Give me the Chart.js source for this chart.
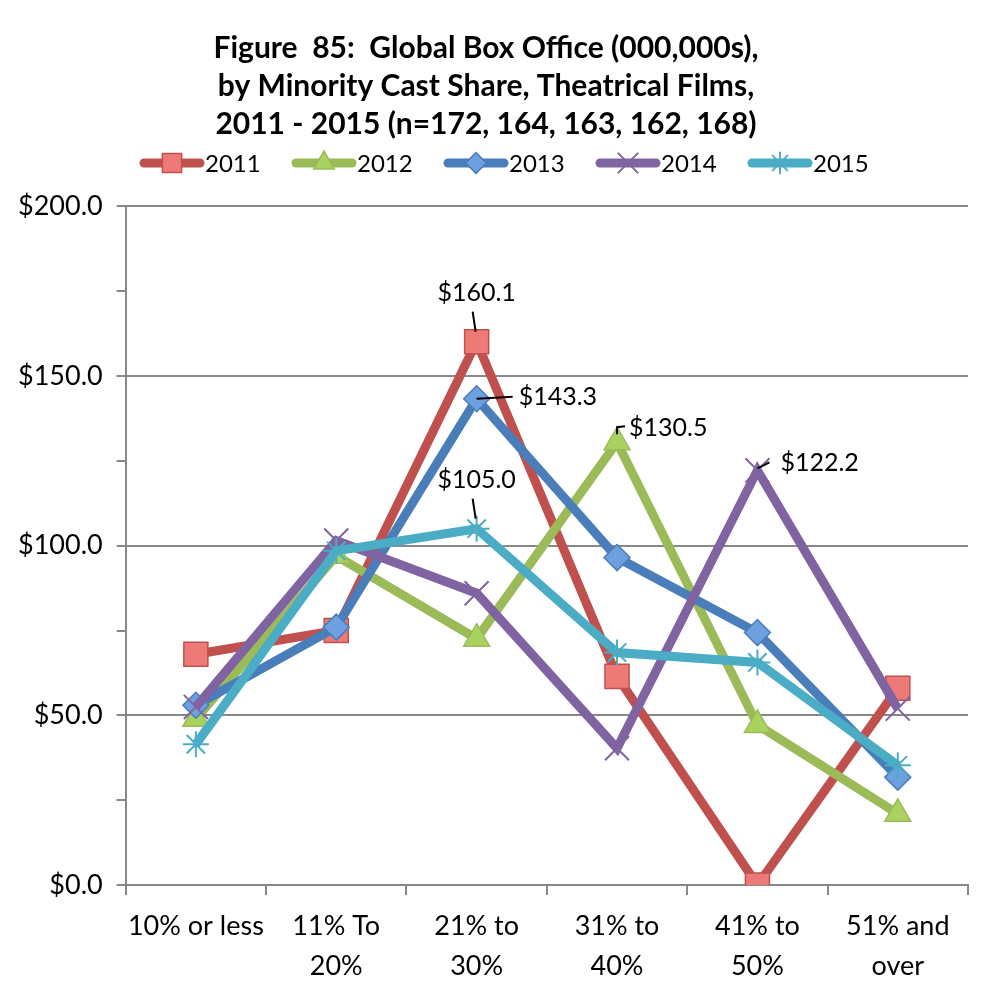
<!DOCTYPE html>
<html>
<head>
<meta charset="utf-8">
<script src="https://cdn.jsdelivr.net/npm/chart.js@4.4.1/dist/chart.umd.min.js"></script>
<style>
  html, body { margin: 0; padding: 0; background: #fff; }
  #wrap { width: 1003px; height: 1005px; position: relative; }
</style>
</head>
<body>
<div id="wrap"><canvas id="myChart"></canvas></div>
<script>
const categories = [['10% or less'], ['11% To', '20%'], ['21% to', '30%'], ['31% to', '40%'], ['41% to', '50%'], ['51% and', 'over']];
const years = ['2011', '2012', '2013', '2014', '2015'];
const v2011 = [68.0, 75.0, 160.1, 61.5, 0.0, 58.0];
const v2012 = [49.0, 97.0, 72.6, 130.5, 47.2, 21.0];
const v2013 = [53.0, 76.0, 143.3, 96.5, 74.4, 31.8];
const v2014 = [52.5, 101.5, 86.0, 40.3, 122.2, 52.0];
const v2015 = [41.5, 98.5, 105.0, 68.5, 65.6, 35.3];
const yTicks = [0, 50, 100, 150, 200];
// which points carry a value label: [series, category]
const labelled = [[0, 2], [2, 2], [1, 3], [3, 4], [4, 2]];

const FONT = 'Lato, "Open Sans", sans-serif';
const lineColors = ['#C0504D', '#9BBB59', '#4A7EBB', '#8064A2', '#4BACC6'];
const fillColors = ['#EE7A77', '#A9D35E', '#6E9FDF', '#8064A2', '#4BACC6'];
const pointStyles = ['rect', 'triangle', 'rectRot', 'crossRot', 'star'];
const pointSizes = [17, 15, 13, 17, 13];
const series = [v2011, v2012, v2013, v2014, v2015];

const datasets = series.map((vals, i) => ({
    label: years[i],
    data: vals,
    borderColor: lineColors[i],
    backgroundColor: lineColors[i],
    borderWidth: 9,
    pointStyle: pointStyles[i],
    pointRadius: pointSizes[i],
    pointHoverRadius: pointSizes[i],
    pointBackgroundColor: fillColors[i],
    pointBorderColor: i < 3 ? lineColors[i] : fillColors[i],
    pointBorderWidth: i < 3 ? 1.5 : 2,
    order: 5 - i,
    tension: 0
}));

// value labels with leader lines
const labelPlugin = {
    id: 'valueLabels',
    afterDatasetsDraw(chart) {
        const c = chart.ctx;
        c.save();
        c.font = '25px ' + FONT;
        c.fillStyle = '#000';
        c.strokeStyle = '#000';
        c.lineWidth = 2;
        labelled.forEach(([s, k]) => {
            const p = chart.getDatasetMeta(s).data[k];
            const txt = '$' + series[s][k].toFixed(1);
            const x = p.x, y = p.y;
            c.beginPath();
            if (s === 0 || s === 4) {
                c.moveTo(x - 4, y - 30); c.lineTo(x - 1, y - 10);
                c.stroke();
                c.textAlign = 'center'; c.textBaseline = 'middle';
                c.fillText(txt, x, y - 49);
            } else if (s === 2) {
                c.moveTo(x, y); c.lineTo(x + 36, y - 2);
                c.stroke();
                c.textAlign = 'left'; c.textBaseline = 'middle';
                c.fillText(txt, x + 42, y - 2);
            } else if (s === 1) {
                c.moveTo(x, y - 8); c.lineTo(x, y - 15); c.lineTo(x + 8, y - 16);
                c.stroke();
                c.textAlign = 'left'; c.textBaseline = 'middle';
                c.fillText(txt, x + 12, y - 14);
            } else {
                c.moveTo(x, y - 2); c.lineTo(x + 12, y - 8);
                c.stroke();
                c.textAlign = 'left'; c.textBaseline = 'middle';
                c.fillText(txt, x + 23, y - 7);
            }
        });
        c.restore();
    }
};

// legend: thick line with the marker on it
const legendPlugin = {
    id: 'lineLegend',
    afterDraw(chart) {
        const c = chart.ctx;
        const y = 163;
        c.save();
        c.font = '24px ' + FONT;
        c.textBaseline = 'middle';
        c.textAlign = 'left';
        years.forEach((yr, i) => {
            const x0 = 140 + i * 152;
            c.strokeStyle = lineColors[i];
            c.lineWidth = 9;
            c.lineCap = 'round';
            c.beginPath();
            c.moveTo(x0 + 4, y); c.lineTo(x0 + 60, y);
            c.stroke();
            c.fillStyle = fillColors[i];
            c.strokeStyle = i < 3 ? lineColors[i] : fillColors[i];
            c.lineWidth = i < 3 ? 1.5 : 2;
            Chart.helpers.drawPoint(c, {pointStyle: pointStyles[i], radius: pointSizes[i] * 0.8, borderWidth: c.lineWidth}, x0 + 32, y);
            c.fillStyle = '#000';
            c.fillText(yr, x0 + 65, y + 1);
        });
        c.restore();
    }
};

const ctx = document.getElementById('myChart').getContext('2d');

new Chart(ctx, {
    type: 'line',
    data: { labels: categories, datasets: datasets },
    plugins: [labelPlugin, legendPlugin],
    options: {
        responsive: true,
        maintainAspectRatio: false,
        animation: false,
        layout: { padding: { left: 4, right: 35, top: 0, bottom: 8 } },
        plugins: {
            legend: { display: false },
            tooltip: { enabled: false },
            title: {
                display: true,
                text: ['Figure  85:  Global Box Office (000,000s),', 'by Minority Cast Share, Theatrical Films,', '2011 - 2015 (n=172, 164, 163, 162, 168)'],
                color: '#000',
                font: { family: FONT, size: 30, weight: 'bold', lineHeight: 1.27 },
                padding: { top: 29, bottom: 63 }
            }
        },
        scales: {
            x: {
                offset: true,
                grid: { offset: true, drawOnChartArea: false, drawTicks: true, tickLength: 10, color: '#888', lineWidth: 2 },
                border: { color: '#888', width: 2 },
                ticks: { color: '#000', font: { family: FONT, size: 27, lineHeight: 1.48 }, maxRotation: 0, padding: 11 }
            },
            y: {
                min: 0,
                max: 200,
                afterBuildTicks(axis) {
                    const t = [];
                    for (let v = 0; v <= 200; v += 25) t.push({ value: v });
                    axis.ticks = t;
                },
                grid: {
                    color: c => (c.tick && yTicks.includes(c.tick.value)) ? '#888' : 'rgba(0,0,0,0)',
                    tickColor: '#888',
                    lineWidth: 2,
                    tickLength: 9
                },
                border: { color: '#888', width: 2 },
                ticks: {
                    color: '#000',
                    font: { family: FONT, size: 27 },
                    padding: 14,
                    callback: v => yTicks.includes(v) ? '$' + v.toFixed(1) : ''
                }
            }
        }
    }
});
</script>
</body>
</html>
